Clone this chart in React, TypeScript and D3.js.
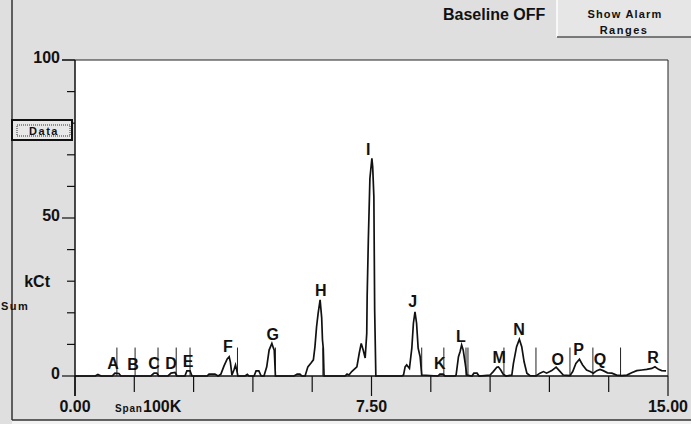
import React from "react";
import * as d3 from "d3";

// Spectrum: energy (keV) and counts (kCt)
const energy = [0, 0.51, 0.58, 0.66, 0.94, 1.01, 1.11, 1.16, 1.92, 2.0, 2.07, 2.12, 2.35, 2.43, 2.53, 2.58, 2.78, 2.83, 2.91, 2.96, 3.34, 3.39, 3.54, 3.62, 3.69, 3.77, 3.85, 3.9, 3.93, 3.97, 4.02, 4.06, 4.1, 4.12, 4.3, 4.36, 4.4, 4.53, 4.58, 4.65, 4.71, 4.78, 4.85, 4.91, 4.98, 5.02, 5.04, 5.07, 5.54, 5.62, 5.69, 5.74, 5.82, 5.89, 5.97, 6.03, 6.07, 6.11, 6.15, 6.2, 6.24, 6.26, 6.28, 6.3, 6.83, 6.88, 6.93, 7.0, 7.13, 7.19, 7.24, 7.29, 7.34, 7.38, 7.39, 7.42, 7.46, 7.51, 7.53, 7.56, 7.58, 7.61, 8.27, 8.31, 8.35, 8.39, 8.46, 8.52, 8.56, 8.6, 8.64, 8.68, 8.73, 8.77, 9.18, 9.23, 9.31, 9.36, 9.61, 9.64, 9.7, 9.74, 9.78, 9.82, 9.87, 9.91, 10.04, 10.09, 10.17, 10.22, 10.5, 10.58, 10.67, 10.71, 10.77, 10.83, 10.9, 11.05, 11.09, 11.17, 11.24, 11.3, 11.36, 11.43, 11.51, 11.66, 11.76, 11.85, 11.93, 12.06, 12.17, 12.25, 12.35, 12.52, 12.59, 12.67, 12.76, 12.84, 12.94, 13.03, 13.11, 13.2, 13.28, 13.36, 13.47, 13.58, 13.7, 13.83, 13.96, 14.08, 14.21, 14.34, 14.46, 14.59, 14.67, 14.76, 14.84, 14.95];
const counts = [0, 0, 0.5, 0, 0, 0.9, 0.8, 0, 0, 0.9, 0.9, 0, 0, 0.9, 1.1, 0, 0, 1.6, 1.6, 0, 0, 0.6, 0.6, 0, 0.6, 3.2, 5.4, 6.1, 4.4, 0.3, 1.9, 3.5, 1.3, 0, 0, 0.5, 0, 0, 1.6, 1.6, 0, 0, 2.9, 8.2, 10.3, 8.8, 8.2, 0, 0, 0.6, 0.6, 0, 0, 2.9, 4.1, 5.1, 9.3, 15.5, 19.8, 24.1, 18.4, 11.4, 8.8, 0, 0, 0.6, 0.3, 1.4, 2.9, 7.2, 10.3, 8.2, 5.7, 13.5, 25.1, 43.0, 62.6, 68.9, 66.2, 56.7, 20.9, 0, 0, 0.3, 2.9, 3.5, 2.4, 8.8, 16.7, 20.3, 16.7, 8.8, 6.1, 0.3, 0, 0.6, 0.6, 0, 0, 0.3, 6.1, 7.7, 9.8, 8.2, 4.0, 0.3, 0, 0.9, 0.9, 0, 0.3, 1.4, 2.8, 2.9, 1.9, 0.6, 0, 0.3, 4.0, 9.3, 11.6, 9.3, 4.5, 0.9, 0.1, 0, 0.9, 1.4, 0.9, 1.7, 2.8, 1.7, 0.3, 0.1, 1.4, 4.0, 5.3, 3.5, 1.9, 1.4, 0.9, 1.7, 2.1, 1.7, 1.0, 0.9, 0.3, 0.1, 0.3, 1.0, 1.7, 1.9, 2.1, 2.4, 2.9, 2.1, 1.7, 1.6];

// Region markers (keV) and their height (kCt)
const markerEnergies = [1.06, 1.52, 2.1, 2.56, 2.91, 4.11, 5.07, 6.27, 8.77, 9.33, 9.89, 9.94, 10.85, 11.66, 12.52, 13.1, 13.8];
const markerHeight = 9;

// Peak labels
const peakNames = ["A", "B", "C", "D", "E", "F", "G", "H", "I", "J", "K", "L", "M", "N", "O", "P", "Q", "R"];
const peakEnergy = [0.96, 1.47, 2.0, 2.43, 2.86, 3.87, 5.0, 6.22, 7.42, 8.54, 9.23, 9.76, 10.73, 11.23, 12.21, 12.74, 13.28, 14.62];
const peakLabelY = [2.2, 1.9, 2.2, 2.2, 2.8, 7.6, 11.4, 25.3, 69.9, 21.8, 2.2, 10.8, 4.1, 13.0, 3.5, 6.6, 3.5, 4.1];

// Axes
const xTicks = [0, 1.5, 3, 4.5, 6, 7.5, 9, 10.5, 12, 13.5, 15];
const xMajorTicks = [0, 7.5, 15];
const xTickLabels = ["0.00", "7.50", "15.00"];
const yTicks = [0, 10, 20, 30, 40, 50, 60, 70, 80, 90, 100];
const yMajorTicks = [0, 50, 100];
const yTickLabels = ["0", "50", "100"];

const W = 691;
const H = 424;
const BG = "#dfdfdf";
const FONT = "'Liberation Sans', Arial, sans-serif";

export default function App() {
  const x = d3.scaleLinear().domain([0, 15]).range([75, 668]);
  const y = d3.scaleLinear().domain([0, 100]).range([376, 60]);
  const pts: [number, number][] = energy.map((e, i) => [e, counts[i]]);
  const line = d3
    .line<[number, number]>()
    .x((d) => x(d[0]))
    .y((d) => y(d[1]));

  return (
    <svg
      width={W}
      height={H}
      style={{ position: "absolute", left: 0, top: 0, display: "block" }}
      fontFamily={FONT}
    >
      <rect x={0} y={0} width={W} height={H} fill={BG} />
      <rect x={12} y={420} width={W} height={4} fill="#f2f2f2" />
      <line x1={12} y1={0} x2={12} y2={420} stroke="#333" strokeWidth={1.5} />
      <line x1={12} y1={420} x2={W} y2={420} stroke="#333" strokeWidth={1.5} />

      {/* plot area */}
      <rect x={x(0)} y={y(100)} width={x(15) - x(0)} height={y(0) - y(100)} fill="#fff" />
      <line x1={62} y1={y(100)} x2={x(15)} y2={y(100)} stroke="#222" strokeWidth={1} />
      <line x1={x(15)} y1={y(100)} x2={x(15)} y2={y(0)} stroke="#222" strokeWidth={1} />

      {/* y axis */}
      <line x1={x(0)} y1={y(100)} x2={x(0)} y2={396} stroke="#111" strokeWidth={1.5} />
      {yTicks.map((t) => (
        <line
          key={"yt" + t}
          x1={yMajorTicks.includes(t) ? 62 : 67}
          x2={x(0)}
          y1={y(t)}
          y2={y(t)}
          stroke="#111"
          strokeWidth={1.2}
        />
      ))}
      {yMajorTicks.map((t, i) => (
        <text key={"yl" + t} x={60} y={y(t) + 3} textAnchor="end" fontSize={16} fontWeight="bold" fill="#111">
          {yTickLabels[i]}
        </text>
      ))}

      {/* x axis */}
      <line x1={x(0)} y1={y(0)} x2={x(15)} y2={y(0)} stroke="#111" strokeWidth={1.5} />
      {xTicks.map((t) => (
        <line
          key={"xt" + t}
          x1={x(t)}
          x2={x(t)}
          y1={y(0)}
          y2={xMajorTicks.includes(t) ? 396 : 392}
          stroke="#111"
          strokeWidth={1.2}
        />
      ))}
      {xMajorTicks.map((t, i) => (
        <text key={"xl" + t} x={x(t)} y={412} textAnchor="middle" fontSize={16} fontWeight="bold" fill="#111">
          {xTickLabels[i]}
        </text>
      ))}
      <text x={115} y={412} fontSize={10} fontWeight="bold" fill="#111" letterSpacing={0.8}>
        Span
      </text>
      <text x={143} y={412} fontSize={16} fontWeight="bold" fill="#111">
        100K
      </text>

      {/* markers */}
      {markerEnergies.map((e, i) => (
        <line key={"m" + i} x1={x(e)} x2={x(e)} y1={y(0)} y2={y(markerHeight)} stroke="#222" strokeWidth={1} />
      ))}

      {/* spectrum */}
      <path d={line(pts) || ""} fill="none" stroke="#111" strokeWidth={1.7} strokeLinejoin="miter" />

      {/* peak labels */}
      {peakNames.map((n, i) => (
        <text
          key={"p" + n}
          x={x(peakEnergy[i])}
          y={y(peakLabelY[i])}
          textAnchor="middle"
          fontSize={16}
          fontWeight="bold"
          fill="#111"
        >
          {n}
        </text>
      ))}

      {/* y axis title */}
      <text x={50} y={287} textAnchor="end" fontSize={16} fontWeight="bold" fill="#111">
        kCt
      </text>
      <text x={1} y={310} fontSize={11} fontWeight="bold" fill="#111" letterSpacing={1.5}>
        Sum
      </text>

      {/* Data button */}
      <rect x={12} y={120} width={60} height={20} fill="#e8e8e8" stroke="#111" strokeWidth={2} />
      <rect x={17} y={125} width={53} height={11} fill="none" stroke="#333" strokeWidth={1} strokeDasharray="1,1" />
      <text x={44} y={135} textAnchor="middle" fontSize={11} fontWeight="bold" fill="#111" letterSpacing={1.5}>
        Data
      </text>

      {/* top controls */}
      <text x={443} y={20} fontSize={16} fontWeight="bold" fill="#111">
        Baseline OFF
      </text>
      <rect x={557} y={-2} width={140} height={39} fill="#e6e6e6" />
      <line x1={557} y1={-2} x2={557} y2={37} stroke="#fff" strokeWidth={1.5} />
      <line x1={557} y1={37} x2={W} y2={37} stroke="#555" strokeWidth={1.5} />
      <text x={625} y={18} textAnchor="middle" fontSize={11} fontWeight="bold" fill="#111" letterSpacing={1.2}>
        Show Alarm
      </text>
      <text x={624} y={34} textAnchor="middle" fontSize={11} fontWeight="bold" fill="#111" letterSpacing={1.5}>
        Ranges
      </text>
    </svg>
  );
}
